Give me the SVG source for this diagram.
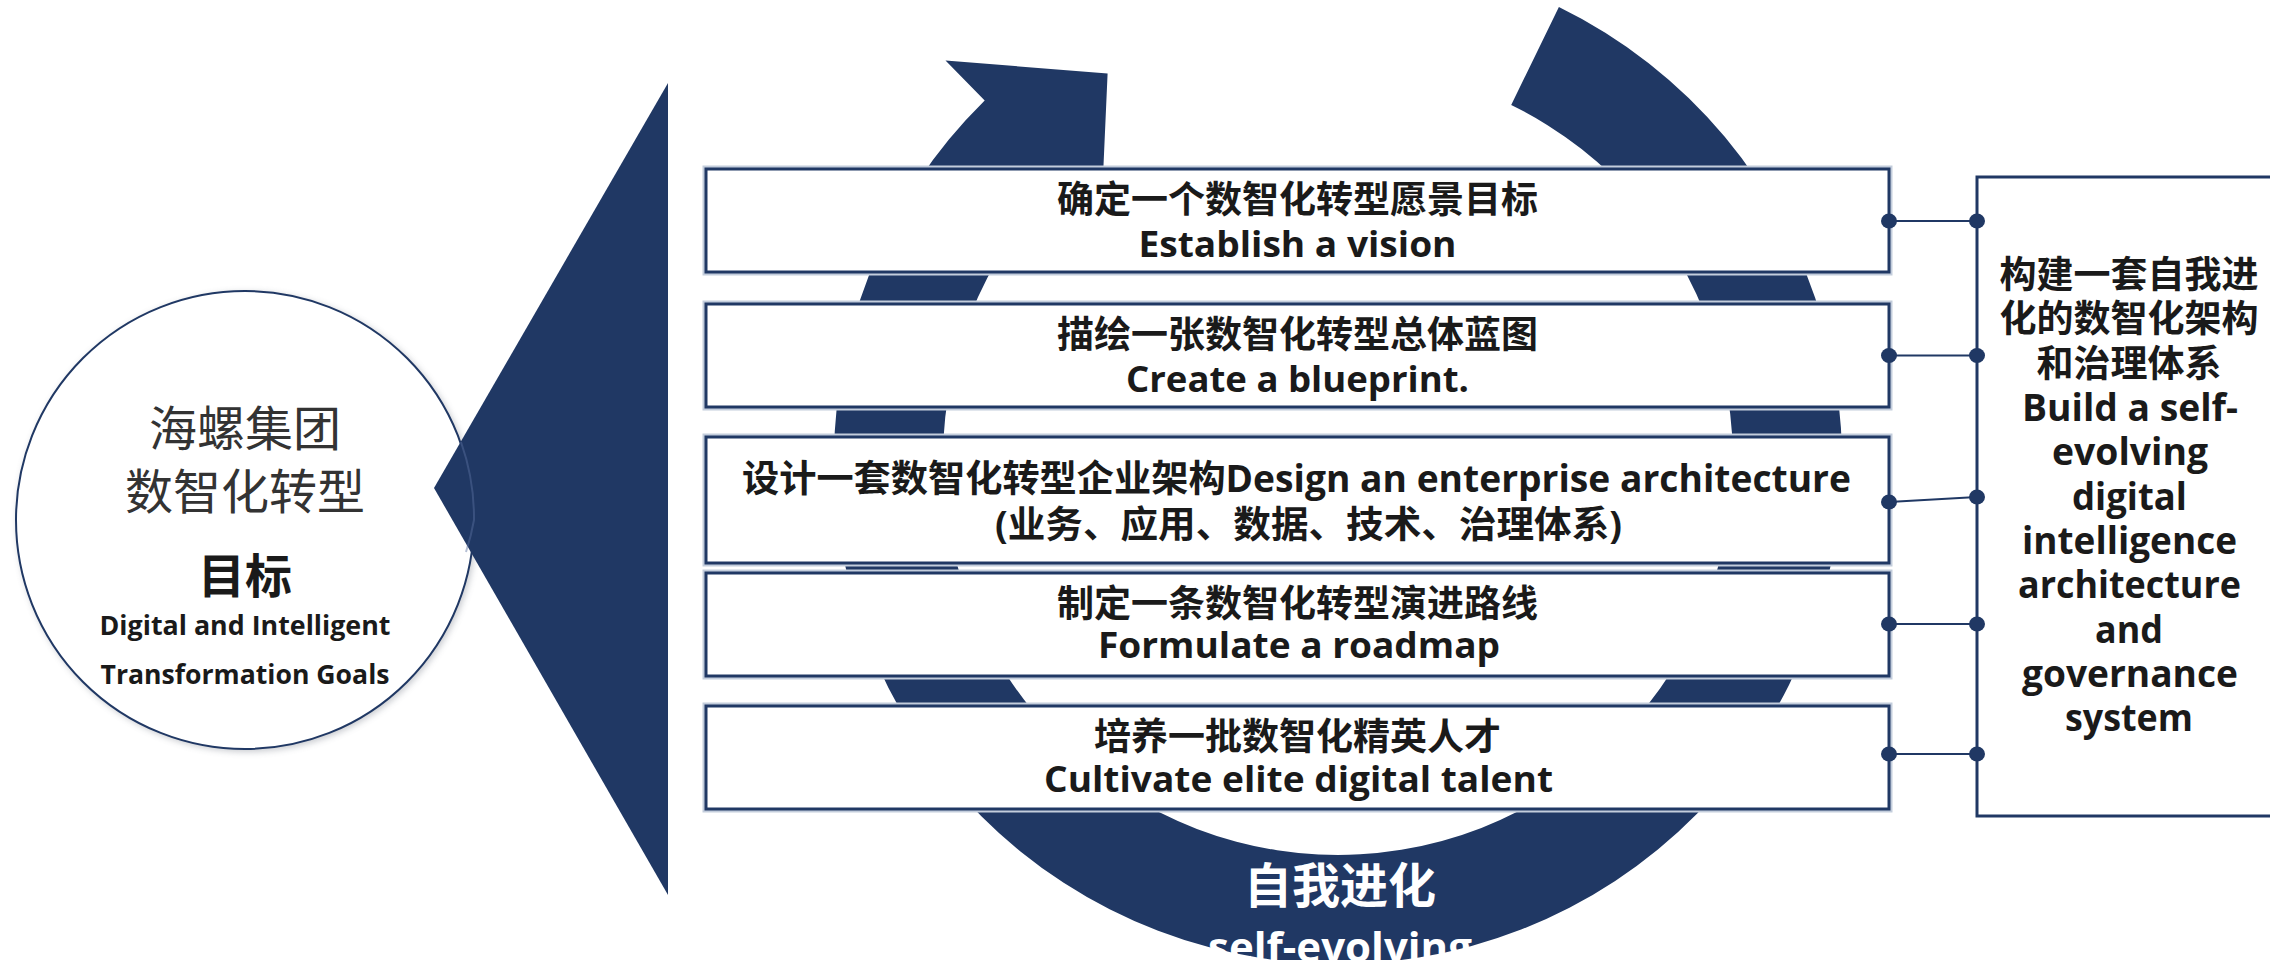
<svg xmlns="http://www.w3.org/2000/svg" width="2270" height="960" viewBox="0 0 2270 960">
<defs>
<style>
.navy{fill:#203864;}
.box{fill:#ffffff;stroke:#203864;stroke-width:3;}
.halo{fill:none;stroke:#c3cddc;stroke-width:7;}
.t{font-family:"Open Sans","Noto Sans CJK SC",sans-serif;font-weight:700;fill:#1a1a1a;text-anchor:middle;}
.cn{font-size:37px;}
.en{font-size:36px;}
.rt{font-size:37px;}
.wt{font-family:"Open Sans","Noto Sans CJK SC",sans-serif;font-weight:700;fill:#ffffff;text-anchor:middle;}
.conn{stroke:#203864;stroke-width:2;fill:none;}
.dot{fill:#203864;}
</style>
<filter id="sh" x="-10%" y="-10%" width="120%" height="120%">
<feGaussianBlur stdDeviation="3"/>
</filter>
</defs>

<g id="ring">
<path class="navy" d="M1558.9,7 A504,504 0 1 1 984.7,100.5 L945.5,60.6 L1107.6,73.4 L1101.1,218.9 L1061.1,178.2 A395,395 0 1 0 1511.2,105 Z"/>
<text class="wt" x="1340" y="903" font-size="48">自我进化</text>
<text class="wt" x="1340" y="962" font-size="42">self-evolving</text>
</g>

<g id="goal">
<circle cx="247" cy="522" r="230" fill="#8a8f99" opacity="0.45" filter="url(#sh)"/>
<circle cx="245" cy="520" r="229" fill="#ffffff" stroke="#203864" stroke-width="2"/>
<text x="245" y="446" font-family="'Noto Sans CJK SC',sans-serif" font-size="48" fill="#333333" text-anchor="middle">海螺集团</text>
<text x="245" y="509" font-family="'Noto Sans CJK SC',sans-serif" font-size="48" fill="#333333" text-anchor="middle">数智化转型</text>
<text x="245" y="593" font-family="'Noto Sans CJK SC',sans-serif" font-weight="700" font-size="47" fill="#1a1a1a" text-anchor="middle">目标</text>
<text class="t" x="245" y="635" font-size="26" textLength="291" lengthAdjust="spacingAndGlyphs">Digital and Intelligent</text>
<text class="t" x="245" y="684" font-size="26" textLength="289" lengthAdjust="spacingAndGlyphs">Transformation Goals</text>
</g>

<g id="funnel">
<polygon class="navy" points="434,488 668,83 668,895"/>
<path d="M461,442 A229,229 0 0 1 474,520 A229,229 0 0 1 466,552" fill="none" stroke="#5a72a0" stroke-width="2" opacity="0.45"/>
</g>

<g id="box1">
<rect class="halo" x="706" y="169" width="1183" height="103"/>
<rect class="box" x="706" y="169" width="1183" height="103"/>
<text class="t cn" x="1297.5" y="213">确定一个数智化转型愿景目标</text>
<text class="t en" x="1297.5" y="257" textLength="318" lengthAdjust="spacingAndGlyphs">Establish a vision</text>
</g>

<g id="box2">
<rect class="halo" x="706" y="304" width="1183" height="103"/>
<rect class="box" x="706" y="304" width="1183" height="103"/>
<text class="t cn" x="1297.5" y="348">描绘一张数智化转型总体蓝图</text>
<text class="t en" x="1297.5" y="392" textLength="343" lengthAdjust="spacingAndGlyphs">Create a blueprint.</text>
</g>

<g id="box3">
<rect class="halo" x="706" y="437" width="1183" height="126"/>
<rect class="box" x="706" y="437" width="1183" height="126"/>
<text class="t cn" x="1296.5" y="492" textLength="1109" lengthAdjust="spacingAndGlyphs">设计一套数智化转型企业架构Design an enterprise architecture</text>
<text class="t cn" x="1308.5" y="538" textLength="627" lengthAdjust="spacingAndGlyphs">(业务、应用、数据、技术、治理体系)</text>
</g>

<g id="box4">
<rect class="halo" x="706" y="573" width="1183" height="103"/>
<rect class="box" x="706" y="573" width="1183" height="103"/>
<text class="t cn" x="1297.5" y="617">制定一条数智化转型演进路线</text>
<text class="t en" x="1299" y="658" textLength="402" lengthAdjust="spacingAndGlyphs">Formulate a roadmap</text>
</g>

<g id="box5">
<rect class="halo" x="706" y="706" width="1183" height="103"/>
<rect class="box" x="706" y="706" width="1183" height="103"/>
<text class="t cn" x="1297.5" y="750">培养一批数智化精英人才</text>
<text class="t en" x="1298.5" y="792" textLength="509" lengthAdjust="spacingAndGlyphs">Cultivate elite digital talent</text>
</g>

<g id="system">
<rect class="box" x="1977" y="177" width="320" height="639"/>
<text class="t rt" x="2129" y="288">构建一套自我进</text>
<text class="t rt" x="2129" y="332">化的数智化架构</text>
<text class="t rt" x="2129" y="377">和治理体系</text>
<text class="t rt" x="2130" y="421" textLength="216" lengthAdjust="spacingAndGlyphs">Build a self-</text>
<text class="t rt" x="2130" y="465" textLength="156" lengthAdjust="spacingAndGlyphs">evolving</text>
<text class="t rt" x="2129.5" y="510" textLength="115" lengthAdjust="spacingAndGlyphs">digital</text>
<text class="t rt" x="2129.5" y="554" textLength="215" lengthAdjust="spacingAndGlyphs">intelligence</text>
<text class="t rt" x="2129.5" y="598" textLength="223" lengthAdjust="spacingAndGlyphs">architecture</text>
<text class="t rt" x="2129" y="643" textLength="68" lengthAdjust="spacingAndGlyphs">and</text>
<text class="t rt" x="2130" y="687" textLength="216" lengthAdjust="spacingAndGlyphs">governance</text>
<text class="t rt" x="2129" y="731" textLength="128" lengthAdjust="spacingAndGlyphs">system</text>
</g>

<g id="connectors">
<line class="conn" x1="1889" y1="221" x2="1977" y2="221"/>
<line class="conn" x1="1889" y1="355.5" x2="1977" y2="355.5"/>
<line class="conn" x1="1889" y1="502" x2="1977" y2="497"/>
<line class="conn" x1="1889" y1="624" x2="1977" y2="624"/>
<line class="conn" x1="1889" y1="754" x2="1977" y2="754"/>
<ellipse class="dot" cx="1889" cy="221" rx="8" ry="7.5"/>
<ellipse class="dot" cx="1977" cy="221" rx="8" ry="7.5"/>
<ellipse class="dot" cx="1889" cy="355.5" rx="8" ry="7.5"/>
<ellipse class="dot" cx="1977" cy="355.5" rx="8" ry="7.5"/>
<ellipse class="dot" cx="1889" cy="502" rx="8" ry="7.5"/>
<ellipse class="dot" cx="1977" cy="497" rx="8" ry="7.5"/>
<ellipse class="dot" cx="1889" cy="624" rx="8" ry="7.5"/>
<ellipse class="dot" cx="1977" cy="624" rx="8" ry="7.5"/>
<ellipse class="dot" cx="1889" cy="754" rx="8" ry="7.5"/>
<ellipse class="dot" cx="1977" cy="754" rx="8" ry="7.5"/>
</g>
</svg>
